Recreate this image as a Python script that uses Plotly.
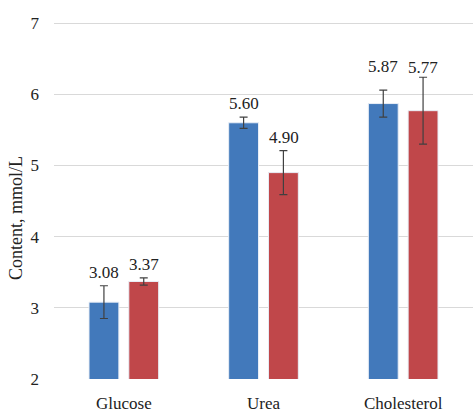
import plotly.graph_objects as go

categories = ["Glucose", "Urea", "Cholesterol"]
series1_values = [3.08, 5.60, 5.87]
series1_errors = [0.23, 0.08, 0.19]
series2_values = [3.37, 4.90, 5.77]
series2_errors = [0.05, 0.31, 0.47]
y_ticks = [2, 3, 4, 5, 6, 7]

blue = "#4279BB"
red = "#C0474A"
err_color = "#404040"
font_family = "Liberation Serif, Times New Roman, serif"

fig = go.Figure()
for vals, errs, col in [(series1_values, series1_errors, blue), (series2_values, series2_errors, red)]:
    fig.add_trace(go.Bar(
        x=categories, y=vals, marker=dict(color=col, line=dict(color="#E8EEF6", width=1)),
        error_y=dict(type="data", array=errs, visible=True, color=err_color, thickness=1.2, width=4),
        showlegend=False, hoverinfo="skip",
    ))

# value labels above error bars
label_shift = [[2, 2, 12], [2, 2, -2]]
for si, (vals, errs) in enumerate([(series1_values, series1_errors), (series2_values, series2_errors)]):
    for ci, cat in enumerate(categories):
        fig.add_annotation(
            x=cat, y=vals[ci] + errs[ci], xref="x", yref="y",
            text=f"{vals[ci]:.2f}", showarrow=False, yanchor="bottom",
            xshift=-20 if si == 0 else 20, yshift=label_shift[si][ci],
            font=dict(family=font_family, size=17, color="#222222"),
        )

# y-axis title
fig.add_annotation(
    x=0, y=0.45, xref="paper", yref="paper", xanchor="right", xshift=-26,
    text="Content, mmol/L", textangle=-90, showarrow=False,
    font=dict(family=font_family, size=18, color="#222222"),
)

fig.update_layout(
    width=473, height=414,
    margin=dict(l=54, r=0, t=21, b=35, autoexpand=False),
    paper_bgcolor="white", plot_bgcolor="white",
    barmode="group", bargap=0.43, bargroupgap=0.25,
    font=dict(family=font_family, size=17, color="#222222"),
    xaxis=dict(showline=False, ticks="", ticklabelstandoff=12, automargin=False,
               tickfont=dict(family=font_family, size=17)),
    yaxis=dict(range=[2, 7.03], tickvals=y_ticks, showgrid=True, gridcolor="#D9D9D9", gridwidth=1,
               zeroline=False, showline=False, ticklabelstandoff=14, automargin=False,
               tickfont=dict(family=font_family, size=17)),
)

fig.write_html("out.html", config={"displayModeBar": False},
               post_script="document.body.style.margin='0';document.body.style.overflow='hidden';")
